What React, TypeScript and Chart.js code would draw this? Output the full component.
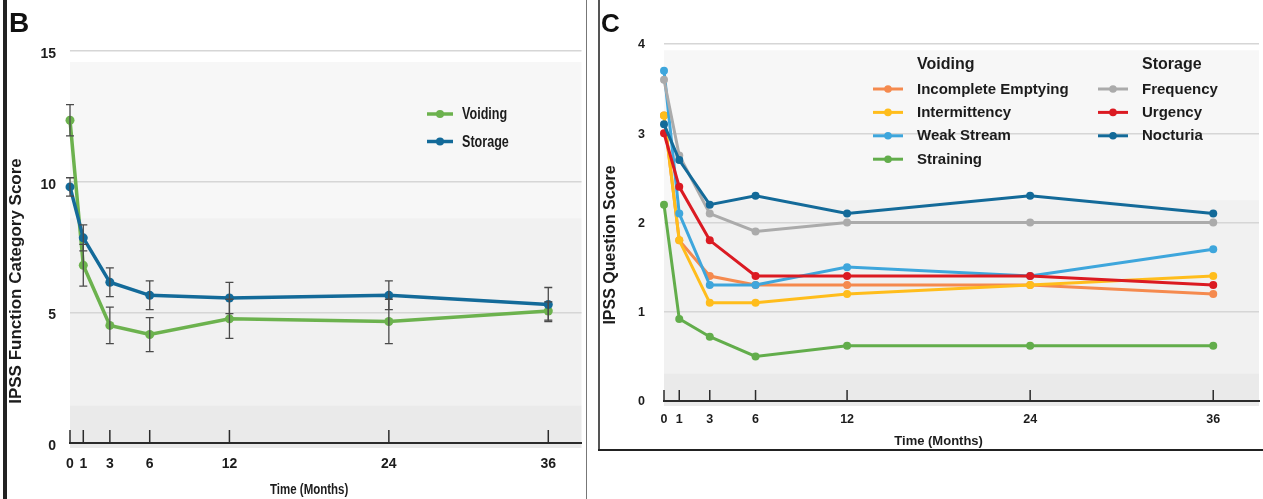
import React, { useEffect, useRef } from "react";
import { Chart, registerables } from "chart.js";

Chart.register(...registerables);

// ---------------- Data ----------------
const months = [0, 1, 3, 6, 12, 24, 36];
const monthTicks = [0, 1, 3, 6, 12, 24, 36];

// Panel B – IPSS function category score
const categoryTicks = [0, 5, 10, 15];
const voidingScore = [12.35, 6.8, 4.5, 4.15, 4.75, 4.65, 5.05];
const voidingError = [0.6, 0.8, 0.7, 0.65, 0.75, 0.85, 0.35];
const storageScore = [9.8, 7.85, 6.15, 5.65, 5.55, 5.65, 5.3];
const storageError = [0.35, 0.5, 0.55, 0.55, 0.6, 0.55, 0.65];

// Panel C – IPSS question score
const questionTicks = [0, 1, 2, 3, 4];
const incompleteEmptying = [3.2, 1.8, 1.4, 1.3, 1.3, 1.3, 1.2];
const intermittency = [3.2, 1.8, 1.1, 1.1, 1.2, 1.3, 1.4];
const weakStream = [3.7, 2.1, 1.3, 1.3, 1.5, 1.4, 1.7];
const straining = [2.2, 0.92, 0.72, 0.5, 0.62, 0.62, 0.62];
const frequency = [3.6, 2.75, 2.1, 1.9, 2.0, 2.0, 2.0];
const urgency = [3.0, 2.4, 1.8, 1.4, 1.4, 1.4, 1.3];
const nocturia = [3.1, 2.7, 2.2, 2.3, 2.1, 2.3, 2.1];

const voidingQuestionNames = ["Incomplete Emptying", "Intermittency", "Weak Stream", "Straining"];
const storageQuestionNames = ["Frequency", "Urgency", "Nocturia"];

// ---------------- Styles ----------------
const SANS = '"Liberation Sans", Arial, Helvetica, sans-serif';
const TEXT = "#1c1c1c";
const GRID = "#d6d6d6";

const colors = {
  voidingB: "#6cb24e",
  storageB: "#136a99",
  incomplete: "#f58a4e",
  intermittency: "#ffbd1c",
  weak: "#3ea6dc",
  straining: "#62ad4b",
  frequency: "#ababab",
  urgency: "#db1a22",
  nocturia: "#136a99",
};

const toXY = (vals: number[]) => months.map((m, i) => ({ x: m, y: vals[i] }));

type Band = { from: number | null; to: number; color: string };

// draws text, optionally condensed horizontally
function drawText(ctx: any, txt: string, x: number, y: number, font: string, squeeze: number, align: string) {
  ctx.save();
  ctx.font = font;
  ctx.textAlign = align;
  ctx.textBaseline = "middle";
  ctx.translate(x, y);
  ctx.scale(squeeze, 1);
  ctx.fillText(txt, 0, 0);
  ctx.restore();
}

function decorPlugin(d: any) {
  return {
    id: "decor" + d.name,
    beforeDraw(chart: any) {
      const { ctx, chartArea: a, scales } = chart;
      const y = scales.y;
      ctx.save();
      for (const b of d.bands as Band[]) {
        const top = y.getPixelForValue(b.to);
        const bottom = b.from === null ? a.bottom + 5 : y.getPixelForValue(b.from);
        ctx.fillStyle = b.color;
        ctx.fillRect(a.left, top, a.right - a.left, bottom - top);
      }
      ctx.restore();
    },
    beforeDatasetsDraw(chart: any) {
      const { ctx, chartArea: a, scales } = chart;
      const x = scales.x;
      ctx.save();
      ctx.strokeStyle = "#2b2b2b";
      ctx.lineWidth = 1.5;
      for (const v of monthTicks) {
        const px = x.getPixelForValue(v);
        ctx.beginPath();
        ctx.moveTo(px, a.bottom);
        ctx.lineTo(px, a.bottom - d.tickMark);
        ctx.stroke();
      }
      ctx.restore();
    },
    afterDatasetsDraw(chart: any) {
      const { ctx, scales } = chart;
      const y = scales.y;
      ctx.save();
      ctx.strokeStyle = "#4a4a4a";
      ctx.lineWidth = 1.3;
      chart.data.datasets.forEach((ds: any, i: number) => {
        if (!ds.errors) return;
        const meta = chart.getDatasetMeta(i);
        meta.data.forEach((pt: any, j: number) => {
          const v = ds.data[j].y;
          const e = ds.errors[j];
          const t = y.getPixelForValue(v + e);
          const b = y.getPixelForValue(v - e);
          ctx.beginPath();
          ctx.moveTo(pt.x, t);
          ctx.lineTo(pt.x, b);
          ctx.moveTo(pt.x - 4, t);
          ctx.lineTo(pt.x + 4, t);
          ctx.moveTo(pt.x - 4, b);
          ctx.lineTo(pt.x + 4, b);
          ctx.stroke();
        });
      });
      ctx.restore();
    },
    afterDraw(chart: any) {
      const { ctx, scales } = chart;
      const x = scales.x;
      ctx.save();
      ctx.fillStyle = TEXT;
      const cx = (x.getPixelForValue(monthTicks[0]) + x.getPixelForValue(monthTicks[monthTicks.length - 1])) / 2;
      drawText(ctx, d.xTitle, cx, d.xTitleY, d.xTitleFont, d.xTitleSqueeze, "center");
      ctx.save();
      ctx.font = d.yTitleFont;
      ctx.textAlign = "center";
      ctx.textBaseline = "middle";
      ctx.translate(d.yTitleX, d.yTitleY);
      ctx.rotate(-Math.PI / 2);
      ctx.fillText(d.yTitle, 0, 0);
      ctx.restore();
      ctx.restore();

      // legend
      ctx.save();
      const dsByLabel: Record<string, any> = {};
      chart.data.datasets.forEach((ds: any) => (dsByLabel[ds.label] = ds));
      for (const col of d.legend) {
        if (col.header) {
          ctx.fillStyle = TEXT;
          drawText(ctx, col.header, col.textX, col.headerY, col.headerFont, col.squeeze, "left");
        }
        col.items.forEach((name: string, k: number) => {
          const ds = dsByLabel[name];
          const yy = col.firstY + k * col.rowGap;
          ctx.strokeStyle = ds.borderColor;
          ctx.lineWidth = col.lineWidth;
          ctx.beginPath();
          ctx.moveTo(col.lineX0, yy);
          ctx.lineTo(col.lineX1, yy);
          ctx.stroke();
          ctx.fillStyle = ds.borderColor;
          ctx.beginPath();
          ctx.arc((col.lineX0 + col.lineX1) / 2, yy, col.markR, 0, Math.PI * 2);
          ctx.fill();
          ctx.fillStyle = TEXT;
          drawText(ctx, name, col.textX, yy + 0.5, col.itemFont, col.squeeze, "left");
        });
      }
      ctx.restore();
    },
  };
}

function makeConfig(p: any) {
  return {
    type: "line",
    data: { datasets: p.datasets },
    options: {
      responsive: false,
      maintainAspectRatio: false,
      animation: false,
      devicePixelRatio: 1,
      layout: { padding: p.padding },
      plugins: { legend: { display: false }, tooltip: { enabled: false } },
      elements: { line: { tension: 0 } },
      scales: {
        x: {
          type: "linear",
          min: 0,
          max: p.xMax,
          afterBuildTicks: (s: any) => {
            s.ticks = monthTicks.map((v) => ({ value: v }));
          },
          afterFit: (s: any) => {
            s.height = p.xHeight;
          },
          grid: { display: false, drawTicks: false },
          border: { display: true, color: "#2b2b2b", width: 2 },
          ticks: {
            font: p.xTickFont,
            color: TEXT,
            padding: p.xTickPad,
            autoSkip: false,
            maxRotation: 0,
            callback: (v: any) => String(v),
          },
        },
        y: {
          type: "linear",
          min: 0,
          max: p.yMax,
          afterBuildTicks: (s: any) => {
            s.ticks = p.yTicks.map((v: number) => ({ value: v }));
          },
          afterFit: (s: any) => {
            s.width = p.yWidth;
          },
          grid: {
            color: (c: any) => (c.tick && c.tick.value === 0 ? "rgba(0,0,0,0)" : GRID),
            lineWidth: 1.5,
            drawTicks: false,
          },
          border: { display: false },
          ticks: {
            font: p.yTickFont,
            color: TEXT,
            padding: p.yTickPad,
            labelOffset: p.yLabelOffset,
            callback: (v: any) => String(v),
          },
        },
      },
    },
    plugins: [decorPlugin(p.decor)],
  };
}

function ChartCanvas({ config, width, height, style }: any) {
  const ref = useRef<HTMLCanvasElement | null>(null);
  useEffect(() => {
    const chart = new Chart(ref.current as HTMLCanvasElement, config() as any);
    return () => chart.destroy();
  }, []);
  return (
    <div style={style}>
      <canvas ref={ref} width={width} height={height} style={{ display: "block", width, height }} />
    </div>
  );
}

const lineDs = (label: string, vals: number[], color: string, w: number, r: number, errors?: number[]) => ({
  label,
  data: toXY(vals),
  borderColor: color,
  backgroundColor: color,
  pointBackgroundColor: color,
  pointBorderColor: color,
  borderWidth: w,
  pointRadius: r,
  pointBorderWidth: 0,
  clip: false,
  errors,
});

const configB = () =>
  makeConfig({
    datasets: [
      lineDs("Storage", storageScore, colors.storageB, 3.5, 4.5, storageError),
      lineDs("Voiding", voidingScore, colors.voidingB, 3.5, 4.5, voidingError),
    ],
    padding: { top: 51, right: 2, left: 0, bottom: 0 },
    xMax: 38.5,
    yMax: 15,
    yTicks: categoryTicks,
    xHeight: 56,
    yWidth: 70,
    xTickFont: { family: SANS, size: 14, weight: "bold" },
    yTickFont: { family: SANS, size: 14, weight: "bold" },
    xTickPad: 13,
    yTickPad: 14,
    yLabelOffset: 3,
    decor: {
      name: "B",
      bands: [
        { from: 8.6, to: 14.58, color: "#f7f7f7" },
        { from: 1.44, to: 8.6, color: "#f1f1f1" },
        { from: null, to: 1.44, color: "#eaeaea" },
      ],
      tickMark: 13,
      xTitle: "Time (Months)",
      xTitleFont: `bold 14px ${SANS}`,
      xTitleSqueeze: 0.82,
      xTitleY: 490,
      yTitle: "IPSS Function Category Score",
      yTitleFont: `bold 17px ${SANS}`,
      yTitleX: 16,
      yTitleY: 281,
      legend: [
        {
          header: null,
          items: ["Voiding", "Storage"],
          lineX0: 427,
          lineX1: 453,
          textX: 462,
          firstY: 114,
          rowGap: 27.5,
          lineWidth: 3.5,
          markR: 4,
          squeeze: 0.74,
          itemFont: `bold 17px ${SANS}`,
        },
      ],
    },
  });

const configC = () =>
  makeConfig({
    datasets: [
      lineDs("Nocturia", nocturia, colors.nocturia, 3, 4),
      lineDs("Urgency", urgency, colors.urgency, 3, 4),
      lineDs("Frequency", frequency, colors.frequency, 3, 4),
      lineDs("Straining", straining, colors.straining, 3, 4),
      lineDs("Weak Stream", weakStream, colors.weak, 3, 4),
      lineDs("Intermittency", intermittency, colors.intermittency, 3, 4),
      lineDs("Incomplete Emptying", incompleteEmptying, colors.incomplete, 3, 4),
    ],
    padding: { top: 44, right: 4, left: 0, bottom: 0 },
    xMax: 39,
    yMax: 4,
    yTicks: questionTicks,
    xHeight: 48,
    yWidth: 65,
    xTickFont: { family: SANS, size: 12.5, weight: "bold" },
    yTickFont: { family: SANS, size: 12.5, weight: "bold" },
    xTickPad: 11,
    yTickPad: 19,
    yLabelOffset: 1,
    decor: {
      name: "C",
      bands: [
        { from: 2.25, to: 3.93, color: "#f7f7f7" },
        { from: 0.31, to: 2.25, color: "#f1f1f1" },
        { from: null, to: 0.31, color: "#eaeaea" },
      ],
      tickMark: 11,
      xTitle: "Time (Months)",
      xTitleFont: `bold 13px ${SANS}`,
      xTitleSqueeze: 1,
      xTitleY: 441,
      yTitle: "IPSS Question Score",
      yTitleFont: `bold 16px ${SANS}`,
      yTitleX: 12,
      yTitleY: 245,
      legend: [
        {
          header: "Voiding",
          headerFont: `bold 16px ${SANS}`,
          headerY: 65,
          items: voidingQuestionNames,
          lineX0: 274,
          lineX1: 304,
          textX: 318,
          firstY: 89,
          rowGap: 23.4,
          lineWidth: 3,
          markR: 3.8,
          squeeze: 1,
          itemFont: `bold 15px ${SANS}`,
        },
        {
          header: "Storage",
          headerFont: `bold 16px ${SANS}`,
          headerY: 65,
          items: storageQuestionNames,
          lineX0: 499,
          lineX1: 529,
          textX: 543,
          firstY: 89,
          rowGap: 23.4,
          lineWidth: 3,
          markR: 3.8,
          squeeze: 1,
          itemFont: `bold 15px ${SANS}`,
        },
      ],
    },
  });

export default function App() {
  const letter = (txt: string, left: number, top: number, size: number) => (
    <div
      style={{
        position: "absolute",
        left,
        top,
        fontFamily: SANS,
        fontWeight: "bold",
        fontSize: size,
        lineHeight: `${size}px`,
        color: "#111",
      }}
    >
      {txt}
    </div>
  );
  return (
    <div
      style={{
        position: "absolute",
        left: 0,
        top: 0,
        width: 1263,
        height: 499,
        background: "#fff",
        overflow: "hidden",
      }}
    >
      <ChartCanvas config={configB} width={586} height={499} style={{ position: "absolute", left: 0, top: 0 }} />
      <ChartCanvas config={configC} width={664} height={449} style={{ position: "absolute", left: 599, top: 0 }} />
      {/* frames */}
      <div style={{ position: "absolute", left: 3, top: 0, width: 4, height: 499, background: "#222" }} />
      <div style={{ position: "absolute", left: 586, top: 0, width: 1, height: 499, background: "#777" }} />
      <div style={{ position: "absolute", left: 598, top: 0, width: 1.5, height: 450, background: "#555" }} />
      <div style={{ position: "absolute", left: 598, top: 449, width: 665, height: 2, background: "#222" }} />
      {letter("B", 9, 9, 28)}
      {letter("C", 601, 10, 26)}
    </div>
  );
}
